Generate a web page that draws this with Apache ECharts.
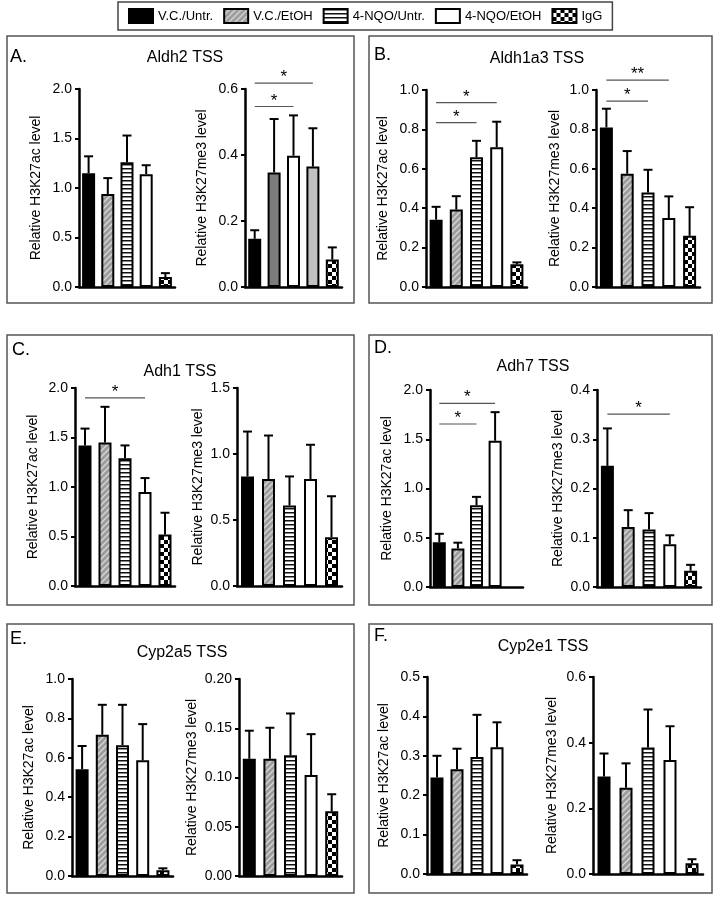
<!DOCTYPE html>
<html>
<head>
<meta charset="utf-8">
<script src="https://cdn.jsdelivr.net/npm/echarts@6/dist/echarts.min.js"></script>
<style>
html, body { margin: 0; padding: 0; background: #fff; }
#main { width: 719px; height: 900px; }
</style>
</head>
<body>
<div id="main"></div>
<script>
var groups = ['V.C./Untr.', 'V.C./EtOH', '4-NQO/Untr.', '4-NQO/EtOH', 'IgG'];
var panelLetters = ['A.', 'B.', 'C.', 'D.', 'E.', 'F.'];
var panelTitles = ['Aldh2 TSS', 'Aldh1a3 TSS', 'Adh1 TSS', 'Adh7 TSS', 'Cyp2a5 TSS', 'Cyp2e1 TSS'];
var acName = 'Relative H3K27ac level';
var meName = 'Relative H3K27me3 level';

// bar heights (group order) and the SEM drawn above them
var aldh2Ac = [1.15, 0.94, 1.26, 1.14, 0.10];
var aldh2AcSem = [0.17, 0.16, 0.27, 0.09, 0.04];
var aldh2Me = [0.146, 0.347, 0.398, 0.365, 0.083];
var aldh2MeSem = [0.026, 0.162, 0.122, 0.116, 0.037];
var aldh1a3Ac = [0.342, 0.393, 0.658, 0.71, 0.115];
var aldh1a3AcSem = [0.065, 0.068, 0.084, 0.129, 0.01];
var aldh1a3Me = [0.81, 0.575, 0.48, 0.35, 0.26];
var aldh1a3MeSem = [0.095, 0.115, 0.115, 0.11, 0.145];
var adh1Ac = [1.42, 1.45, 1.29, 0.95, 0.52];
var adh1AcSem = [0.17, 0.36, 0.13, 0.14, 0.22];
var adh1Me = [0.83, 0.81, 0.61, 0.81, 0.37];
var adh1MeSem = [0.34, 0.33, 0.22, 0.26, 0.31];
var adh7Ac = [0.455, 0.39, 0.83, 1.485, null];
var adh7AcSem = [0.085, 0.06, 0.085, 0.29, null];
var adh7Me = [0.246, 0.122, 0.117, 0.087, 0.033];
var adh7MeSem = [0.076, 0.034, 0.033, 0.018, 0.012];
var cyp2a5Ac = [0.542, 0.717, 0.664, 0.587, 0.029];
var cyp2a5AcSem = [0.118, 0.152, 0.205, 0.184, 0.01];
var cyp2a5Me = [0.119, 0.119, 0.1225, 0.1025, 0.0657];
var cyp2a5MeSem = [0.0285, 0.0315, 0.0425, 0.0415, 0.0173];
var cyp2e1Ac = [0.245, 0.266, 0.297, 0.322, 0.024];
var cyp2e1AcSem = [0.055, 0.052, 0.107, 0.063, 0.011];
var cyp2e1Me = [0.297, 0.263, 0.385, 0.347, 0.033];
var cyp2e1MeSem = [0.07, 0.074, 0.116, 0.103, 0.012];

// y axis: [max, interval, decimals]
var ticks2 = [2.0, 0.5, 1];
var ticks1 = [1.0, 0.2, 1];
var ticks06 = [0.6, 0.2, 1];
var ticks15 = [1.5, 0.5, 1];
var ticks04 = [0.4, 0.1, 1];
var ticks02 = [0.2, 0.05, 2];
var ticks05 = [0.5, 0.1, 1];

// significance bars: [from group, to group, height, mark]
var aldh2MeSig = [[0, 3, 0.618, '*'], [0, 2, 0.547, '*']];
var aldh1a3AcSig = [[0, 3, 0.936, '*'], [0, 2, 0.834, '*']];
var aldh1a3MeSig = [[0, 3, 1.05, '**'], [0, 2, 0.944, '*']];
var adh1AcSig = [[0, 3, 1.90, '*']];
var adh7AcSig = [[0, 3, 1.865, '*'], [0, 2, 1.655, '*']];
var adh7MeSig = [[0, 3, 0.351, '*']];

var charts = [
  { means: aldh2Ac, sem: aldh2AcSem, ticks: ticks2, sig: [], name: acName },
  { means: aldh2Me, sem: aldh2MeSem, ticks: ticks06, sig: aldh2MeSig, name: meName },
  { means: aldh1a3Ac, sem: aldh1a3AcSem, ticks: ticks1, sig: aldh1a3AcSig, name: acName },
  { means: aldh1a3Me, sem: aldh1a3MeSem, ticks: ticks1, sig: aldh1a3MeSig, name: meName },
  { means: adh1Ac, sem: adh1AcSem, ticks: ticks2, sig: adh1AcSig, name: acName },
  { means: adh1Me, sem: adh1MeSem, ticks: ticks15, sig: [], name: meName },
  { means: adh7Ac, sem: adh7AcSem, ticks: ticks2, sig: adh7AcSig, name: acName },
  { means: adh7Me, sem: adh7MeSem, ticks: ticks04, sig: adh7MeSig, name: meName },
  { means: cyp2a5Ac, sem: cyp2a5AcSem, ticks: ticks1, sig: [], name: acName },
  { means: cyp2a5Me, sem: cyp2a5MeSem, ticks: ticks02, sig: [], name: meName },
  { means: cyp2e1Ac, sem: cyp2e1AcSem, ticks: ticks05, sig: [], name: acName },
  { means: cyp2e1Me, sem: cyp2e1MeSem, ticks: ticks06, sig: [], name: meName }
];

// layout: plot areas [left, top, width, height], panel frames, heading spots
var gridBoxes = [
  [79, 89, 96, 198], [245, 89, 97, 198],
  [426, 90, 101, 197], [596, 90, 104, 197],
  [75, 388, 100, 198], [237, 388, 105, 198],
  [430, 390, 93, 197], [597, 390, 104, 197],
  [72, 679, 101, 197], [239, 679, 103, 197],
  [427, 677, 100, 197], [593, 677, 110, 197]
];
var nameGaps = [36, 36, 36, 34, 35, 32, 36, 32, 36, 40, 36, 34];
var frames = [[7, 36, 347, 267], [369, 36, 343, 267], [7, 335, 347, 270],
  [369, 335, 343, 270], [7, 624, 347, 269], [369, 624, 343, 269]];
var letterPos = [[10, 57], [374, 55], [12, 350], [374, 348], [10, 639], [374, 636]];
var titlePos = [[185, 58], [537, 59], [180, 372], [533, 367], [182, 653], [543, 647]];

var FONT = '"Liberation Sans", Arial, sans-serif';

function hatch() {
  var c = document.createElement('canvas');
  c.width = 6; c.height = 6;
  var ctx = c.getContext('2d');
  ctx.fillStyle = '#9c9c9c';
  ctx.fillRect(0, 0, 6, 6);
  ctx.strokeStyle = '#d6d6d6';
  ctx.lineWidth = 1.4;
  ctx.beginPath();
  ctx.moveTo(0, 6); ctx.lineTo(6, 0);
  ctx.moveTo(-3, 3); ctx.lineTo(3, -3);
  ctx.moveTo(3, 9); ctx.lineTo(9, 3);
  ctx.stroke();
  return { image: c, repeat: 'repeat' };
}
function stripes() {
  var c = document.createElement('canvas');
  c.width = 4; c.height = 4;
  var ctx = c.getContext('2d');
  ctx.fillStyle = '#fff';
  ctx.fillRect(0, 0, 4, 4);
  ctx.fillStyle = '#111';
  ctx.fillRect(0, 0, 4, 1.5);
  return { image: c, repeat: 'repeat' };
}
function checker() {
  var c = document.createElement('canvas');
  c.width = 8; c.height = 8;
  var ctx = c.getContext('2d');
  ctx.fillStyle = '#fff';
  ctx.fillRect(0, 0, 8, 8);
  ctx.fillStyle = '#000';
  ctx.fillRect(0, 0, 4, 4);
  ctx.fillRect(4, 4, 4, 4);
  return { image: c, repeat: 'repeat' };
}
var fills = ['#000', hatch(), stripes(), '#fff', checker()];
// the Aldh2 me3 plot uses plain greys in the original
var aldh2MeFills = ['#000', '#7c7c7c', '#fff', '#c2c2c2', fills[4]];

var grids = [], xAxes = [], yAxes = [], series = [], graphics = [];

charts.forEach(function (ch, k) {
  var b = gridBoxes[k];
  grids.push({ left: b[0], top: b[1], width: b[2], height: b[3] });
  xAxes.push({
    type: 'category', gridIndex: k, data: groups,
    axisLine: { lineStyle: { color: '#000', width: 2.5 } },
    axisTick: { show: false }, axisLabel: { show: false }
  });
  yAxes.push({
    type: 'value', gridIndex: k, min: 0, max: ch.ticks[0], interval: ch.ticks[1],
    name: ch.name, nameLocation: 'middle', nameGap: nameGaps[k],
    nameTextStyle: { fontSize: 14, color: '#000', fontFamily: FONT },
    axisLine: { show: true, lineStyle: { color: '#000', width: 2.5 } },
    axisTick: { show: true, length: 4, lineStyle: { color: '#000', width: 2 } },
    axisLabel: {
      fontSize: 14, color: '#000', fontFamily: FONT, margin: 7,
      formatter: (function (d) { return function (v) { return v.toFixed(d); }; })(ch.ticks[2])
    },
    splitLine: { show: false }
  });
  var fillSet = k === 1 ? aldh2MeFills : fills;
  groups.forEach(function (g, i) {
    series.push({
      type: 'bar', name: g, xAxisIndex: k, yAxisIndex: k,
      barWidth: 13, barGap: '-100%',
      itemStyle: { color: fillSet[i], borderColor: '#000', borderWidth: 2 },
      data: groups.map(function (x, j) {
        return j === i && ch.means[i] != null ? ch.means[i] : '-';
      })
    });
  });
  var errData = [];
  ch.means.forEach(function (m, i) {
    if (m != null) errData.push([i, m, m + ch.sem[i]]);
  });
  series.push({
    type: 'custom', xAxisIndex: k, yAxisIndex: k, z: 5,
    encode: { x: 0, y: [1, 2] },
    data: errData,
    renderItem: function (params, api) {
      var p0 = api.coord([api.value(0), api.value(1)]);
      var p1 = api.coord([api.value(0), api.value(2)]);
      return {
        type: 'group', children: [
          { type: 'line', shape: { x1: p0[0], y1: p0[1], x2: p1[0], y2: p1[1] }, style: { stroke: '#000', lineWidth: 2 } },
          { type: 'line', shape: { x1: p1[0] - 4.5, y1: p1[1], x2: p1[0] + 4.5, y2: p1[1] }, style: { stroke: '#000', lineWidth: 2 } }
        ]
      };
    }
  });
  if (ch.sig.length) {
    series.push({
      type: 'custom', xAxisIndex: k, yAxisIndex: k, z: 5,
      encode: { x: [0, 1], y: 2 },
      data: ch.sig.map(function (s) { return [s[0], s[1], s[2]]; }),
      renderItem: function (params, api) {
        var a = api.coord([api.value(0), api.value(2)]);
        var c = api.coord([api.value(1), api.value(2)]);
        return {
          type: 'group', children: [
            { type: 'line', shape: { x1: a[0], y1: a[1], x2: c[0], y2: c[1] }, style: { stroke: '#555', lineWidth: 1.2 } },
            { type: 'text', style: { text: ch.sig[params.dataIndex][3], x: (a[0] + c[0]) / 2, y: a[1] + 3, align: 'center', verticalAlign: 'bottom', fontSize: 17, fontFamily: FONT, fill: '#000' } }
          ]
        };
      }
    });
  }
});

frames.forEach(function (f, p) {
  graphics.push({ type: 'rect', shape: { x: f[0], y: f[1], width: f[2], height: f[3] }, style: { fill: 'none', stroke: '#555', lineWidth: 1.5 }, silent: true });
  graphics.push({ type: 'text', style: { text: panelLetters[p], x: letterPos[p][0], y: letterPos[p][1], verticalAlign: 'middle', fontSize: 18, fontFamily: FONT, fill: '#000' } });
  graphics.push({ type: 'text', style: { text: panelTitles[p], x: titlePos[p][0], y: titlePos[p][1], align: 'center', verticalAlign: 'middle', fontSize: 16, fontFamily: FONT, fill: '#000' } });
});

var myChart = echarts.init(document.getElementById('main'));
myChart.setOption({
  animation: false,
  backgroundColor: '#fff',
  textStyle: { fontFamily: FONT },
  legend: {
    data: groups, left: 118, top: 2, icon: 'rect', itemWidth: 24, itemHeight: 14, itemGap: 10,
    padding: [6, 10], borderColor: '#444', borderWidth: 1.5,
    textStyle: { fontSize: 13, color: '#000', fontFamily: FONT }
  },
  grid: grids,
  xAxis: xAxes,
  yAxis: yAxes,
  series: series,
  graphic: graphics
});
</script>
</body>
</html>
